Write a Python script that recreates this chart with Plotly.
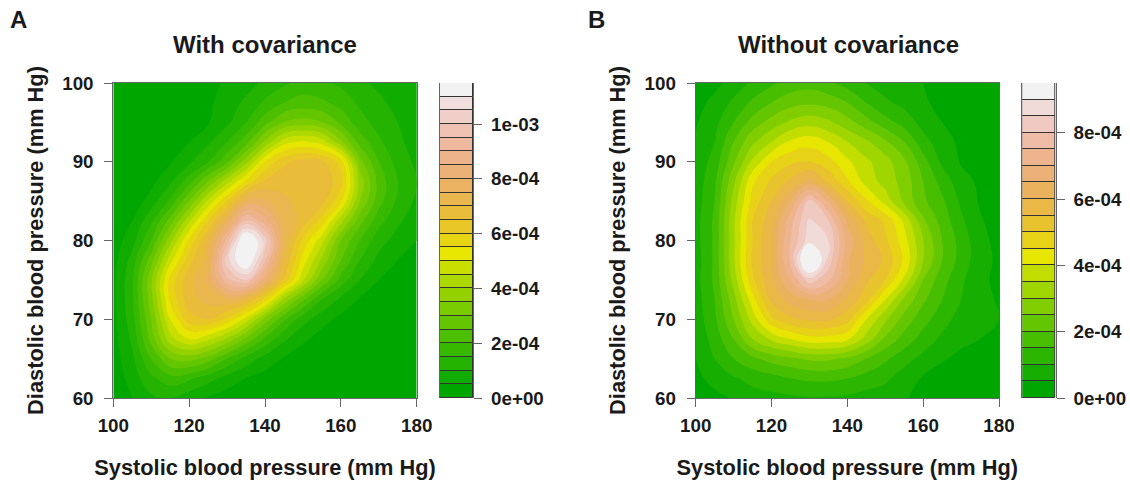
import colorsys
import plotly.graph_objects as go

W, H = 1130, 482
systolic = [100,105,110,115,120,125,130,135,140,145,150,155,160,165,170,175,180]
diastolic = [60,62.5,65,67.5,70,72.5,75,77.5,80,82.5,85,87.5,90,92.5,95,97.5,100]

# density in units of 1e-4, rows bottom (60) to top (100)
density_with = [
 [.1,.5,.9,1,.7,.45,.25,.15,.1,.05,.05,.05,.05,.05,.05,.05,.05],
 [.2,.7,1.4,1.8,1.6,1.2,.8,.5,.3,.15,.1,.05,.05,.05,.05,.05,.05],
 [.25,.9,2.0,3.0,3.2,2.8,2.0,1.3,.8,.45,.2,.1,.05,.05,.05,.05,.05],
 [.3,1.1,2.7,4.3,5.0,4.6,3.9,2.9,1.9,1.1,.6,.3,.15,.1,.05,.05,.05],
 [.35,1.3,3.0,5.0,6.3,6.5,5.9,4.8,3.3,2.1,1.2,.7,.35,.15,.1,.05,.05],
 [.35,1.4,3.3,5.6,6.8,7.2,7.4,7.0,5.8,3.9,2.6,1.5,.9,.45,.2,.1,.05],
 [.35,1.4,3.4,5.7,6.8,7.6,9.4,10,8.2,6.4,4.6,3.0,1.8,1,.5,.25,.15],
 [.3,1.2,2.8,4.8,6.3,7.3,10.3,11.8,9.6,7,5.3,3.9,2.5,1.5,.85,.5,.3],
 [.2,.8,2.0,3.8,5.6,7.0,9.2,12,10.3,7.4,5.9,4.7,3.0,2.0,1.2,.8,.5],
 [.1,.5,1.4,2.7,4.4,6,7.6,9.6,8.7,7.4,6.8,5.8,4.2,2.7,1.7,1.1,.7],
 [.05,.2,.7,1.6,3,4.6,6,7.6,7.6,7.1,6.8,6.7,5.6,3.5,2.2,1.4,.9],
 [.03,.1,.35,.9,1.8,3,4.3,5.6,6.6,6.8,6.9,6.9,6.2,3.8,2.3,1.5,1],
 [.03,.05,.2,.45,.9,1.5,2.4,3.8,5.5,6.4,6.7,6.6,5.8,3.2,2.0,1.3,.9],
 [.03,.05,.1,.2,.5,.9,1.5,2.3,3.6,4.8,5.1,4.8,3.6,2.3,1.6,1.1,.8],
 [.02,.03,.05,.1,.2,.45,.9,1.5,2.3,3,3.2,3,2.4,1.7,1.3,1,.8],
 [.02,.02,.03,.05,.1,.4,.75,1.1,1.6,2,2.2,2.1,1.8,1.4,1.1,.85,.7],
 [.02,.02,.02,.03,.05,.3,.6,.8,1.1,1.4,1.7,1.6,1.4,1.1,.9,.8,.6],
]
density_without = [
 [.15,.35,.55,.8,.85,.9,.95,.95,.9,.8,.75,.55,.35,.25,.2,.2,.15],
 [.35,.7,.95,1.15,1.3,1.5,1.6,1.6,1.5,1.3,1.1,.75,.45,.3,.25,.25,.25],
 [.5,1.0,1.5,1.9,2.2,2.4,2.6,2.6,2.4,2.0,1.6,1.2,.85,.55,.4,.35,.35],
 [.6,1.2,2.0,3.0,3.6,4.0,4.3,4.3,4.1,3.3,2.4,1.8,1.3,.9,.6,.5,.45],
 [.7,1.4,2.5,3.7,4.9,5.4,5.6,5.6,5.2,4.0,3.1,2.3,1.7,1.2,.8,.6,.5],
 [.75,1.5,2.8,4.3,5.6,6.2,6.5,6.5,5.9,5.2,4.0,2.9,2.1,1.5,1.0,.65,.45],
 [.8,1.6,3.2,4.9,5.9,7.0,8.3,7.6,6.5,5.6,5.0,3.9,2.5,1.7,1.1,.6,.4],
 [.75,1.6,3.4,5.1,6.0,7.6,10.3,8.3,6.6,5.9,5.4,4.4,3.0,2.0,1.3,.7,.4],
 [.8,1.6,3.4,5.0,6.0,7.5,8.8,8.5,6.8,5.8,5.1,4.2,3.0,2.0,1.3,.65,.35],
 [.8,1.6,3.4,5,5.8,7.3,8.6,8.0,6.4,5.4,4.9,3.9,2.6,1.8,1.1,.55,.3],
 [.75,1.5,3.2,4.7,5.5,6.5,8.1,6.9,5.5,4.6,3.8,2.9,2.1,1.6,.9,.45,.25],
 [.7,1.4,2.9,4.4,5.1,5.6,6.2,5.4,4.6,3.8,3.3,2.8,2,1.3,.7,.4,.25],
 [.65,1.2,2.4,3.6,4.5,4.9,5.0,4.7,4.1,3.6,3.2,2.6,1.7,.9,.45,.25,.2],
 [.55,1.0,2.0,2.9,3.5,4.1,4.3,4.0,3.5,3.1,2.6,2.0,1.2,.7,.4,.25,.2],
 [.45,.85,1.5,2.2,2.7,3.1,3.3,3.1,2.7,2.2,1.7,1.3,.8,.5,.35,.25,.2],
 [.3,.65,1.1,1.6,2,2.3,2.4,2.3,2,1.5,1.1,.85,.55,.4,.3,.2,.15],
 [.15,.35,.7,1.1,1.4,1.7,1.8,1.6,1.3,1.0,.75,.55,.5,.3,.2,.15,.1],
]
x_ticks = [100,120,140,160,180]
y_ticks = [60,70,80,90,100]
legend_ticks_a = [0,2,4,6,8,10]
legend_labels_a = ["0e+00","2e-04","4e-04","6e-04","8e-04","1e-03"]
legend_ticks_b = [0,2,4,6,8]
legend_labels_b = ["0e+00","2e-04","4e-04","6e-04","8e-04"]
bands_a = 23
bands_b = 19
band_size = 0.5


def terrain(n):
    k = n // 2
    out = []
    h0, h1, h2 = 4/12, 2/12, 0.0
    s0, s1, s2 = 1.0, 1.0, 0.0
    v0, v1, v2 = 0.65, 0.9, 0.95
    for i in range(k):
        t = i / (k - 1)
        out.append((h0+(h1-h0)*t, s0+(s1-s0)*t, v0+(v1-v0)*t))
    m = n - k
    for i in range(1, m + 1):
        t = i / m
        out.append((h1+(h2-h1)*t, s1+(s2-s1)*t, v1+(v2-v1)*t))
    return ["#%02x%02x%02x" % tuple(round(c*255) for c in colorsys.hsv_to_rgb(*p)) for p in out]


FONT = "Liberation Sans"
DARK = "#1a1a1a"
AXIS = "#666666"
fig = go.Figure()


def dx(a, b):
    return [a / W, b / W]


def dy(top, bottom):
    return [1 - bottom / H, 1 - top / H]


def panel(idx, z, bands, left, right, leg_left, leg_right, ticks, labels):
    cols = terrain(bands)
    scale = [[i / (bands - 1), c] for i, c in enumerate(cols)]
    ax1, ax2 = 2 * idx - 1, 2 * idx
    xa = f"x{ax1}"
    ya = f"y{ax1}"
    fig.add_trace(go.Contour(
        x=systolic, y=diastolic, z=z, xaxis=xa, yaxis=ya, colorscale=scale,
        showscale=False, autocontour=False,
        contours=dict(start=band_size, end=(bands - 1) * band_size, size=band_size, coloring="fill", showlines=False),
        line=dict(width=0, smoothing=1.3), hoverinfo="skip"))
    lvl = [i * band_size for i in range(bands)]
    fig.add_trace(go.Bar(
        x=[1] * bands, y=[band_size] * bands, base=lvl, xaxis=f"x{ax2}", yaxis=f"y{ax2}",
        width=1, marker=dict(color=cols, line=dict(color="#333333", width=1)), hoverinfo="skip", showlegend=False))
    tf = dict(family=FONT, size=18.8, color=DARK, weight=700)
    tt = dict(family=FONT, size=21.8, color=DARK, weight=700)
    common = dict(showline=True, linecolor=AXIS, linewidth=1, mirror=True, ticks="outside", ticklen=8,
                  tickcolor=AXIS, tickwidth=1, showgrid=False, zeroline=False, tickfont=tf, automargin=False)
    name = "" if ax1 == 1 else str(ax1)
    fig.update_layout({
        f"xaxis{name}": dict(domain=dx(left, right), anchor=ya, range=[100, 180], tickvals=x_ticks, ticklabelstandoff=2,
                              title=dict(text="Systolic blood pressure (mm Hg)", font=tt, standoff=25), **common),
        f"yaxis{name}": dict(domain=dy(83, 398), anchor=xa, range=[60, 100], tickvals=y_ticks, ticklabelstandoff=7,
                              title=dict(text="Diastolic blood pressure (mm Hg)", font=tt, standoff=12), **common),
        f"xaxis{ax2}": dict(domain=dx(leg_left, leg_right), anchor=f"y{ax2}", range=[0.5, 1.5], visible=False),
        f"yaxis{ax2}": dict(domain=dy(83, 398), anchor=f"x{ax2}", side="right", range=[0, bands * band_size], ticklabelstandoff=5,
                             tickvals=ticks, ticktext=labels, **common),
    })


panel(1, density_with, bands_a, 113.3, 416.7, 440, 473.3, legend_ticks_a, legend_labels_a)
panel(2, density_without, bands_b, 695.7, 999, 1022.3, 1055.7, legend_ticks_b, legend_labels_b)

notes = [("A", 8, 20, 24, "left"), ("B", 586, 20, 24, "left"),
         ("With covariance", 265, 44, 24, "center"), ("Without covariance", 848, 44, 24, "center")]
for text, px, py, size, anchor in notes:
    fig.add_annotation(text=text, x=px / W, y=1 - py / H, xref="paper", yref="paper", xanchor=anchor, yanchor="middle",
                       showarrow=False, font=dict(family=FONT, size=size, color=DARK, weight=700))

fig.update_layout(width=W, height=H, margin=dict(l=0, r=0, t=0, b=0, autoexpand=False), paper_bgcolor="white", plot_bgcolor="white",
                  showlegend=False, bargap=0, font=dict(family=FONT))
fig.write_html("out.html", config=dict(displayModeBar=False), post_script="document.body.style.margin='0';")
